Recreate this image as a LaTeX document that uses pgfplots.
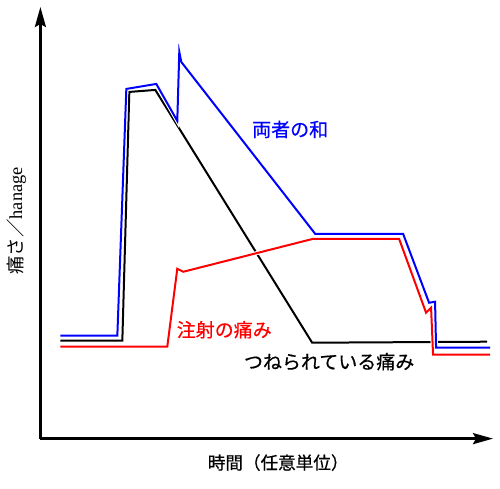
\documentclass[border=0pt]{standalone}
\usepackage{fontspec}
\setmainfont{Liberation Serif}
\newfontfamily\jp[FakeBold=0.5]{Noto Sans CJK JP}
\newfontfamily\jpy{Noto Sans CJK JP}
\usepackage{pgfplots}
\pgfplotsset{compat=1.18}
\usetikzlibrary{arrows.meta}
\begin{document}
\begin{tikzpicture}
\begin{axis}[
  x=0.5pt, y=0.5pt,
  xmin=40, xmax=493, ymin=50, ymax=482,
  axis lines=left,
  axis line style={line width=1.3pt, -{Stealth[length=10pt,width=5.5pt,inset=1.5pt]}},
  xtick=\empty, ytick=\empty,
  clip=false,
]
\path (axis cs:0,0) rectangle (axis cs:500,489);
% black: pinched pain
\addplot[black, line width=1pt] coordinates {
 (60,148) (122,148) (129,397) (155,399) (312,146) (487,147)};
% white halos
\addplot[white, line width=2pt] coordinates {
 (60,153) (117,153) (126,400) (156,405) (177,368) (179,437) (181,427)
 (315,255) (403,255) (429,186) (435,187) (436,141) (490,141)};
\addplot[white, line width=2pt] coordinates {
 (60,142) (167,142) (177,220) (183,217) (313,250) (399,250)
 (426,176) (431,181) (433,134) (490,134)};
% blue: sum
\addplot[blue, line width=1pt] coordinates {
 (60,153) (117,153) (126,400) (156,405) (177,368) (179,437) (181,427)
 (315,255) (403,255) (429,186) (435,187) (436,141) (490,141)};
% red: injection
\addplot[red, line width=1pt] coordinates {
 (60,142) (167,142) (177,220) (183,217) (313,250) (399,250)
 (426,176) (431,181) (433,134) (490,134)};
\node[blue, font=\jp\fontsize{9.5}{11}\selectfont] at (axis cs:290,359.5) {両者の和};
\node[red, font=\jp\fontsize{9.5}{11}\selectfont] at (axis cs:224,159) {注射の痛み};
\node[black, font=\jp\fontsize{9.5}{11}\selectfont] at (axis cs:329,127) {つねられている痛み};
\node[black, font=\jp\fontsize{8.8}{11}\selectfont] at (axis cs:278,26) {時間（任意単位）};
\node[black, rotate=90, font=\fontsize{9.2}{11}\selectfont] at (axis cs:16,268) {{\jpy 痛さ／}hanage};
\end{axis}
\end{tikzpicture}
\end{document}
